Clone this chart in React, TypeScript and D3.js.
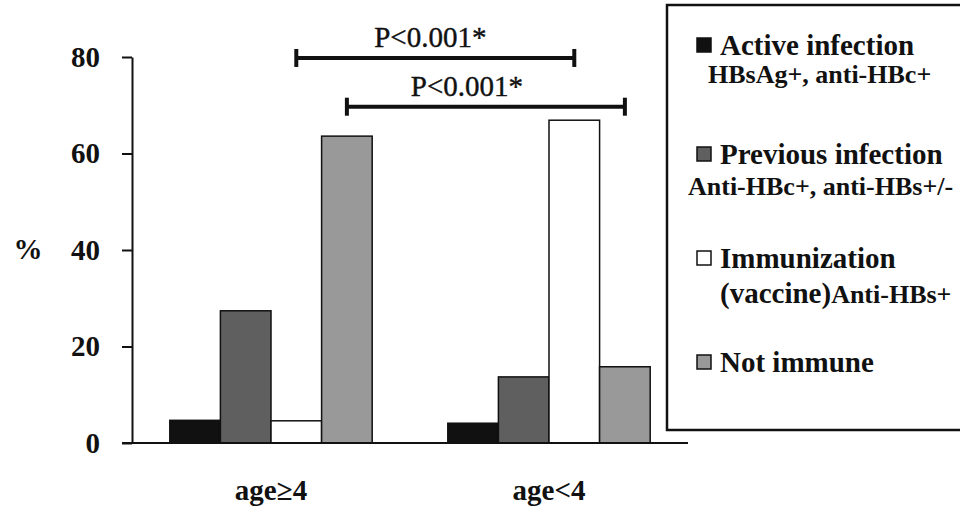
import React, { useEffect, useRef } from 'react';
import * as d3 from 'd3';

const categories = ['age≥4', 'age<4'];
const seriesNames = ['Active infection', 'Previous infection', 'Immunization', 'Not immune'];
const activeInfection = [4.7, 4.1];
const previousInfection = [27.4, 13.7];
const immunization = [4.6, 66.9];
const notImmune = [63.6, 15.8];
const seriesColors = ['#111111', '#5f5f5f', '#ffffff', '#999999'];
const yTicks = [0, 20, 40, 60, 80];

// significance brackets: which series is compared, and at what height (in %)
const comparisons = [
  { series: 'Immunization', level: 79.8, label: 'P<0.001*', shift: -5 },
  { series: 'Not immune', level: 69.7, label: 'P<0.001*', shift: -19 },
];

const legendTitles = ['Active infection', 'Previous infection', 'Immunization', 'Not immune'];
const legendSubs = ['HBsAg+, anti-HBc+', 'Anti-HBc+, anti-HBs+/-', 'Anti-HBs+', ''];

const W = 960;
const H = 509;
const FONT = '"Liberation Serif", "Times New Roman", serif';

const App: React.FC = () => {
  const svgRef = useRef<SVGSVGElement>(null);

  useEffect(() => {
    document.body.style.margin = '0';
    if (!svgRef.current) return;
    const svg = d3.select(svgRef.current);
    svg.selectAll('*').remove();

    const values = [activeInfection, previousInfection, immunization, notImmune];
    const rows = categories.map((c, ci) => ({
      category: c,
      bars: seriesNames.map((s, si) => ({ series: s, value: values[si][ci], color: seriesColors[si] })),
    }));

    const y = d3.scaleLinear().domain([0, 80]).range([443, 57]);
    const x0 = d3.scaleBand<string>().domain(categories).range([132, 688]).paddingInner(0.272).paddingOuter(0.136);
    const x1 = d3.scaleBand<string>().domain(seriesNames).range([0, x0.bandwidth()]);

    // bars
    const groups = svg.append('g')
      .selectAll('g')
      .data(rows)
      .enter()
      .append('g')
      .attr('transform', d => `translate(${x0(d.category)},0)`);

    groups.selectAll('rect')
      .data(d => d.bars)
      .enter()
      .append('rect')
      .attr('x', d => x1(d.series)!)
      .attr('y', d => y(d.value))
      .attr('width', x1.bandwidth())
      .attr('height', d => y(0) - y(d.value))
      .attr('fill', d => d.color)
      .attr('stroke', '#111')
      .attr('stroke-width', 1.5);

    // y axis
    const yAxis = d3.axisLeft(y).tickValues(yTicks).tickSize(10).tickPadding(22).tickSizeOuter(0);
    const ya = svg.append('g').attr('transform', 'translate(132,0)').call(yAxis);
    ya.select('.domain').attr('stroke', '#111').attr('stroke-width', 2);
    ya.selectAll('.tick line').attr('stroke', '#111').attr('stroke-width', 2);
    ya.selectAll('.tick text')
      .attr('fill', '#111')
      .style('font-family', FONT)
      .style('font-size', '29px')
      .style('font-weight', 'bold');

    // baseline
    svg.append('line')
      .attr('x1', 122).attr('x2', 688)
      .attr('y1', y(0)).attr('y2', y(0))
      .attr('stroke', '#111').attr('stroke-width', 2);

    // y label
    svg.append('text')
      .attr('x', 28).attr('y', y(40))
      .attr('dy', '0.32em')
      .attr('text-anchor', 'middle')
      .style('font-family', FONT).style('font-size', '29px').style('font-weight', 'bold')
      .attr('fill', '#111')
      .text('%');

    // x labels
    svg.append('g')
      .selectAll('text')
      .data(categories)
      .enter()
      .append('text')
      .attr('x', d => x0(d)! + x0.bandwidth() / 2)
      .attr('y', 500)
      .attr('text-anchor', 'middle')
      .style('font-family', FONT).style('font-size', '29px').style('font-weight', 'bold')
      .attr('fill', '#111')
      .text(d => d);

    // significance brackets
    comparisons.forEach(c => {
      const xa = x0(categories[0])! + x1(c.series)! + x1.bandwidth() / 2;
      const xb = x0(categories[1])! + x1(c.series)! + x1.bandwidth() / 2;
      const yy = y(c.level);
      const g = svg.append('g');
      g.append('line').attr('x1', xa).attr('x2', xb).attr('y1', yy).attr('y2', yy)
        .attr('stroke', '#111').attr('stroke-width', 4);
      [xa, xb].forEach(xx => {
        g.append('line').attr('x1', xx).attr('x2', xx).attr('y1', yy - 9).attr('y2', yy + 9)
          .attr('stroke', '#111').attr('stroke-width', 4);
      });
      g.append('text')
        .attr('x', (xa + xb) / 2 + c.shift)
        .attr('y', yy - 11)
        .attr('text-anchor', 'middle')
        .style('font-family', FONT).style('font-size', '29px')
        .attr('fill', '#111')
        .attr('stroke', '#111').attr('stroke-width', 0.4)
        .text(c.label);
    });

    // legend
    const lg = svg.append('g');
    lg.append('rect')
      .attr('x', 667).attr('y', 5).attr('width', 320).attr('height', 425)
      .attr('fill', 'white').attr('stroke', '#111').attr('stroke-width', 2.5);

    const rowY = [55, 164, 268, 372];
    const subY = [83, 195, 303];
    const subX = [708, 688, 720];
    legendTitles.forEach((t, i) => {
      lg.append('rect')
        .attr('x', 697).attr('y', rowY[i] - 17).attr('width', 14).attr('height', 14)
        .attr('fill', seriesColors[i]).attr('stroke', '#111').attr('stroke-width', 1.5);
      lg.append('text')
        .attr('x', 720).attr('y', rowY[i])
        .style('font-family', FONT).style('font-size', '29px').style('font-weight', 'bold')
        .attr('fill', '#111')
        .text(t);
      if (!legendSubs[i]) return;
      const st = lg.append('text')
        .attr('x', subX[i]).attr('y', subY[i])
        .style('font-family', FONT).style('font-weight', 'bold')
        .attr('fill', '#111');
      if (i === 2) {
        st.append('tspan').style('font-size', '29px').text('(vaccine)');
      }
      st.append('tspan').style('font-size', '26px').text(legendSubs[i]);
    });
  }, []);

  return <svg ref={svgRef} width={W} height={H} style={{ display: 'block', background: 'white' }} />;
};

export default App;
